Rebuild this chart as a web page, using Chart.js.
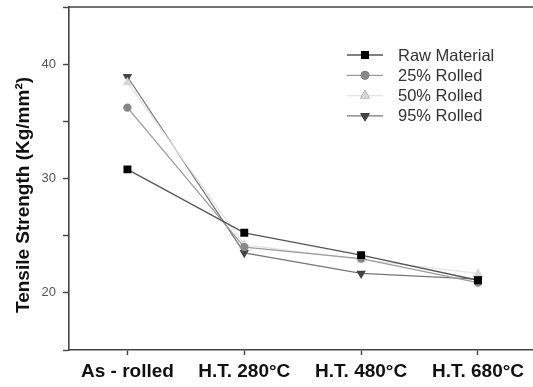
<!DOCTYPE html>
<html>
<head>
<meta charset="utf-8">
<script src="https://cdn.jsdelivr.net/npm/chart.js@4/dist/chart.umd.min.js"></script>
<style>
  html, body { margin: 0; padding: 0; background: #fff; overflow: hidden; }
  /* a little wider than the window: the x axis runs off the right edge in the original */
  #wrap { width: 542px; height: 387px; position: relative; }
</style>
</head>
<body>
<div id="wrap"><canvas id="chart"></canvas></div>
<script>
const categories = ["As - rolled", "H.T. 280°C", "H.T. 480°C", "H.T. 680°C"];
const rawMaterial = [30.8, 25.25, 23.3, 21.1];
const rolled25 = [36.2, 24.0, 23.0, 20.9];
const rolled50 = [38.4, 24.2, 22.9, 21.7];
const rolled95 = [38.9, 23.5, 21.7, 21.2];
const yLabels = [20, 30, 40];
const yTitle = "Tensile Strength (Kg/mm²)";

// custom legend: line + marker like the original plot software
const lineLegend = {
    id: "lineLegend",
    afterDraw(chart) {
        const ctx = chart.ctx;
        const x0 = 347, x1 = 383, xm = 365, tx = 398;
        let y = 55;
        chart.data.datasets.forEach(ds => {
            ctx.save();
            ctx.strokeStyle = ds.borderColor;
            ctx.lineWidth = 1.3;
            ctx.beginPath();
            ctx.moveTo(x0, y);
            ctx.lineTo(x1, y);
            ctx.stroke();
            Chart.helpers.drawPoint(ctx, {
                pointStyle: ds.pointStyle,
                rotation: ds.pointRotation || 0,
                radius: ds.pointRadius,
                borderWidth: 0
            }, xm, y);
            ctx.fillStyle = ds.pointBackgroundColor;
            ctx.fill();
            ctx.fillStyle = "#333";
            ctx.font = "16.5px 'Liberation Sans', Arial, sans-serif";
            ctx.textBaseline = "middle";
            ctx.fillText(ds.label, tx, y + 1);
            ctx.restore();
            y += 20.3;
        });
    }
};

// frame line along the top + y axis title (sits a bit below centre in the original)
const frameAndTitle = {
    id: "frameAndTitle",
    afterDraw(chart) {
        const a = chart.chartArea;
        const ctx = chart.ctx;
        ctx.save();
        ctx.strokeStyle = "#444";
        ctx.lineWidth = 1.6;
        ctx.beginPath();
        ctx.moveTo(a.left - 0.8, a.top);
        ctx.lineTo(chart.width, a.top);
        ctx.stroke();

        ctx.translate(24, 195);
        ctx.rotate(-Math.PI / 2);
        ctx.fillStyle = "#111";
        ctx.font = "bold 19px 'Liberation Sans', Arial, sans-serif";
        ctx.textAlign = "center";
        ctx.textBaseline = "middle";
        ctx.fillText(yTitle, 0, 0);
        ctx.restore();
    }
};

new Chart(document.getElementById("chart"), {
    type: "line",
    data: {
        labels: categories,
        datasets: [
            { label: "Raw Material", data: rawMaterial, borderColor: "#555", pointBackgroundColor: "#000", pointStyle: "rect", pointRadius: 5.6 },
            { label: "25% Rolled", data: rolled25, borderColor: "#9c9c9c", pointBackgroundColor: "#888", pointStyle: "circle", pointRadius: 4.2 },
            { label: "50% Rolled", data: rolled50, borderColor: "#e4e4e4", pointBackgroundColor: "#d8d8d8", pointStyle: "triangle", pointRadius: 5.5 },
            { label: "95% Rolled", data: rolled95, borderColor: "#777", pointBackgroundColor: "#444", pointStyle: "triangle", pointRotation: 180, pointRadius: 5.5 }
        ].map(d => Object.assign({ borderWidth: 1.3, pointBorderWidth: 0, pointBorderColor: d.pointBackgroundColor, tension: 0, fill: false }, d))
    },
    options: {
        responsive: true,
        maintainAspectRatio: false,
        animation: false,
        layout: { padding: { top: 7, right: 0, left: 0, bottom: 0 } },
        plugins: {
            legend: { display: false },
            tooltip: { enabled: false }
        },
        scales: {
            x: {
                type: "category",
                offset: true,
                afterFit: s => { s.height = 37; s.paddingLeft = 0; s.paddingRight = 0; },
                border: { color: "#444", width: 1.6 },
                grid: { drawOnChartArea: false, drawTicks: true, tickLength: 5, tickColor: "#444", tickWidth: 1.4 },
                ticks: {
                    color: "#111",
                    padding: 5,
                    maxRotation: 0,
                    autoSkip: false,
                    font: { family: "'Liberation Sans', Arial, sans-serif", size: 19, weight: "bold" }
                }
            },
            y: {
                min: 15,
                max: 45,
                afterFit: s => { s.width = 69; s.paddingTop = 0; s.paddingBottom = 0; },
                border: { color: "#444", width: 1.6 },
                grid: { drawOnChartArea: false, drawTicks: true, tickLength: 6, tickColor: "#444", tickWidth: 1.4 },
                ticks: {
                    stepSize: 5,
                    color: "#555",
                    padding: 7,
                    font: { family: "'Liberation Sans', Arial, sans-serif", size: 13 },
                    callback: v => yLabels.includes(v) ? String(v) : ""
                }
            }
        }
    },
    plugins: [frameAndTitle, lineLegend]
});
</script>
</body>
</html>
